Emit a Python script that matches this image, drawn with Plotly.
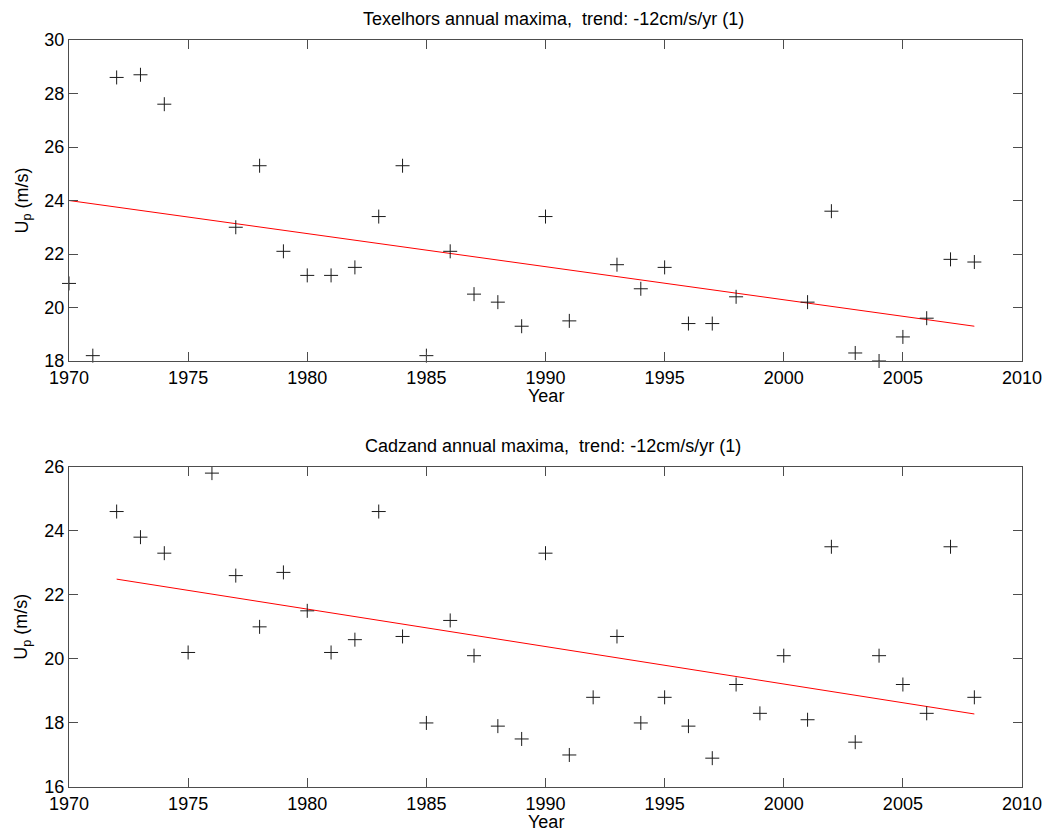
import plotly.graph_objects as go

# Texelhors annual maxima
tex_years = [1970, 1971, 1972, 1973, 1974, 1977, 1978, 1979, 1980, 1981, 1982, 1983, 1984,
             1985, 1986, 1987, 1988, 1989, 1990, 1991, 1993, 1994, 1995, 1996, 1997, 1998,
             2001, 2002, 2003, 2004, 2005, 2006, 2007, 2008]
tex_values = [20.9, 18.2, 28.6, 28.7, 27.6, 23.0, 25.3, 22.1, 21.2, 21.2, 21.5, 23.4, 25.3,
              18.2, 22.1, 20.5, 20.2, 19.3, 23.4, 19.5, 21.6, 20.7, 21.5, 19.4, 19.4, 20.4,
              20.2, 23.6, 18.3, 18.0, 18.9, 19.6, 21.8, 21.7]
tex_trend_years = [1970, 2008]
tex_trend_values = [24.0, 19.3]

# Cadzand annual maxima
cad_years = [1972, 1973, 1974, 1975, 1976, 1977, 1978, 1979, 1980, 1981, 1982, 1983, 1984,
             1985, 1986, 1987, 1988, 1989, 1990, 1991, 1992, 1993, 1994, 1995, 1996, 1997,
             1998, 1999, 2000, 2001, 2002, 2003, 2004, 2005, 2006, 2007, 2008]
cad_values = [24.6, 23.8, 23.3, 20.2, 25.8, 22.6, 21.0, 22.7, 21.5, 20.2, 20.6, 24.6, 20.7,
              18.0, 21.2, 20.1, 17.9, 17.5, 23.3, 17.0, 18.8, 20.7, 18.0, 18.8, 17.9, 16.9,
              19.2, 18.3, 20.1, 18.1, 23.5, 17.4, 20.1, 19.2, 18.3, 23.5, 18.8]
cad_trend_years = [1972, 2008]
cad_trend_values = [22.49, 18.28]

titles = ["Texelhors annual maxima,  trend: -12cm/s/yr (1)",
          "Cadzand annual maxima,  trend: -12cm/s/yr (1)"]
x_range = [1970, 2010]
y_ranges = [[18, 30], [16, 26]]

# page body has an 8px margin, so the figure is a bit smaller than the window
W, H = 1046, 823
ml, mr, mt, mb = 61, 32, 32, 44
pw = W - ml - mr
ph = H - mt - mb

def fy(px):
    return (H - mb - px) / ph

def fx(px):
    return (px - ml) / pw

FONT = "Liberation Sans, Arial, sans-serif"
axcol = "#4d4d4d"
TICK = 18
LAB = 18

fig = go.Figure()
datasets = [
    (tex_years, tex_values, tex_trend_years, tex_trend_values, "x", "y"),
    (cad_years, cad_values, cad_trend_years, cad_trend_values, "x2", "y2"),
]
for yrs, vals, tyrs, tvals, xa, ya in datasets:
    fig.add_trace(go.Scatter(x=tyrs, y=tvals, mode="lines", line=dict(color="#ff0000", width=1),
                             xaxis=xa, yaxis=ya, showlegend=False))
    fig.add_trace(go.Scatter(x=yrs, y=vals, mode="markers",
                             marker=dict(symbol="cross-thin", size=10, color="black",
                                         line=dict(color="#1a1a1a", width=1)),
                             cliponaxis=False, xaxis=xa, yaxis=ya, showlegend=False))

# axes box pixel positions (figure coords)
tops = [32, 458.7]
bottoms = [353, 779]
for i in range(2):
    sfx = "" if i == 0 else str(i + 1)
    fig.layout["xaxis" + sfx] = dict(
        domain=[0, 1], range=x_range, dtick=5, tick0=1970,
        ticks="inside", ticklen=9, tickcolor=axcol, showline=True, linecolor=axcol,
        linewidth=1, mirror="ticks", showgrid=False, zeroline=False, automargin=False,
        tickfont=dict(family=FONT, size=TICK, color="black"), anchor="y" + sfx)
    fig.layout["yaxis" + sfx] = dict(
        domain=[fy(bottoms[i]), fy(tops[i])], range=y_ranges[i], dtick=2,
        ticks="inside", ticklen=9, tickcolor=axcol, showline=True, linecolor=axcol,
        linewidth=1, mirror="ticks", showgrid=False, zeroline=False, automargin=False,
        tickfont=dict(family=FONT, size=TICK, color="black"), anchor="x" + sfx)
    # title
    fig.add_annotation(text=titles[i], x=fx(545), y=fy(tops[i] - 21), xref="paper", yref="paper",
                       xanchor="center", yanchor="middle", showarrow=False,
                       font=dict(family=FONT, size=18, color="black"))
    # x label
    fig.add_annotation(text="Year", x=fx(537.5), y=fy(bottoms[i] + 35), xref="paper", yref="paper",
                       xanchor="center", yanchor="middle", showarrow=False,
                       font=dict(family=FONT, size=LAB, color="black"))
    # y label
    fig.add_annotation(text="U<sub>p</sub> (m/s)", x=fx(15), y=fy((tops[i] + bottoms[i]) / 2),
                       xref="paper", yref="paper", textangle=-90,
                       xanchor="center", yanchor="middle", showarrow=False,
                       font=dict(family=FONT, size=LAB, color="black"))

fig.update_layout(width=W, height=H, margin=dict(l=ml, r=mr, t=mt, b=mb),
                  plot_bgcolor="white", paper_bgcolor="white", showlegend=False)

fig.write_html("out.html")
